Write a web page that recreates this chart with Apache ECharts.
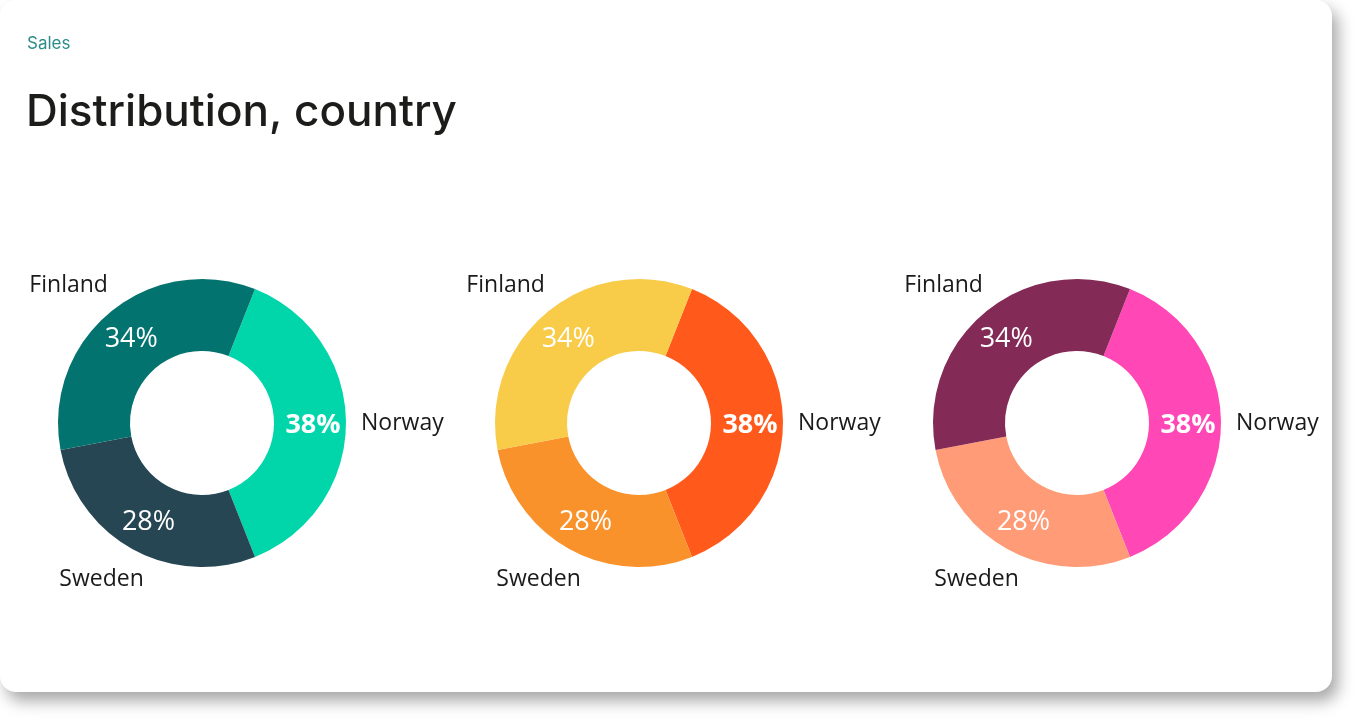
<!DOCTYPE html>
<html>
<head>
<meta charset="utf-8">
<script src="https://cdn.jsdelivr.net/npm/echarts@6/dist/echarts.min.js"></script>
<style>
  html, body {
    margin: 0;
    padding: 0;
    background: #ffffff;
  }
  .card {
    position: absolute;
    left: 0;
    top: 0;
    width: 1332px;
    height: 692px;
    background: #fff;
    border-radius: 16px;
    box-shadow: 6px 9px 16px rgba(0, 0, 0, 0.35);
    overflow: hidden;
  }
  .chart {
    width: 100%;
    height: 100%;
  }
</style>
</head>
<body>
<div class="card"><div class="chart" id="chart"></div></div>
<script>
// data
const countries = ['Norway', 'Sweden', 'Finland']
const salesA = [38, 28, 34]
const salesB = [38, 28, 34]
const salesC = [38, 28, 34]

const colorsA = ['#01d6ab', '#264653', '#037370']
const colorsB = ['#ff5a1b', '#fa922b', '#f8cb48']
const colorsC = ['#ff47b5', '#ff9b76', '#832a56']

// horizontal nudge of each outer name label
const nameShift = [-20, -28, -20]

const donuts = [
  { values: salesA, colors: colorsA, center: [202, 423] },
  { values: salesB, colors: colorsB, center: [639, 423] },
  { values: salesC, colors: colorsC, center: [1077, 423] }
]

const labelFont = '"Open Sans", "Noto Sans", sans-serif'

function toData (values, colors) {
  return values.map((v, i) => ({
    name: countries[i],
    value: v,
    itemStyle: { color: colors[i] }
  }))
}

const series = []
donuts.forEach(d => {
  // ring with the percentages inside
  series.push({
    type: 'pie',
    center: d.center,
    radius: [72, 144],
    startAngle: 68.4,
    avoidLabelOverlap: false,
    silent: true,
    label: {
      show: true,
      position: 'inside',
      formatter: p => p.dataIndex === 0 ? '{b|' + p.percent + '%}' : '{n|' + p.percent + '%}',
      rich: {
        b: { color: '#fff', fontSize: 27, fontWeight: 'bold', fontFamily: labelFont, padding: [4, 0, 0, 0] },
        n: { color: '#fff', fontSize: 27, fontFamily: labelFont, padding: [4, 0, 0, 0] }
      }
    },
    labelLine: { show: false },
    data: toData(d.values, d.colors)
  })
  // same ring again, transparent, only for the country names outside
  series.push({
    type: 'pie',
    center: d.center,
    radius: [72, 144],
    startAngle: 68.4,
    avoidLabelOverlap: false,
    silent: true,
    label: {
      show: true,
      position: 'outside',
      formatter: '{b}',
      color: '#1a1a1a',
      fontSize: 23,
      fontFamily: labelFont,
      distanceToLabelLine: 0
    },
    labelLine: { show: false, length: 35, length2: -20 },
    data: d.values.map((v, i) => ({
      name: countries[i],
      value: v,
      itemStyle: { color: 'rgba(0,0,0,0)' },
      labelLine: { show: false, length: 35, length2: nameShift[i] }
    }))
  })
})

const option = {
  animation: false,
  title: [
    {
      text: 'Sales',
      left: 22,
      top: 30,
      textStyle: {
        color: '#2a8c89',
        fontSize: 17,
        fontWeight: 'normal',
        fontFamily: 'Inter, sans-serif'
      }
    },
    {
      text: 'Distribution, country',
      left: 21,
      top: 80,
      textStyle: {
        color: '#1c1c1a',
        fontSize: 44,
        lineHeight: 56,
        fontWeight: 500,
        fontFamily: 'Inter, sans-serif'
      }
    }
  ],
  series: series
}

const chart = echarts.init(document.getElementById('chart'))
chart.setOption(option)

window.addEventListener('resize', () => {
  chart.resize()
})
</script>
</body>
</html>
